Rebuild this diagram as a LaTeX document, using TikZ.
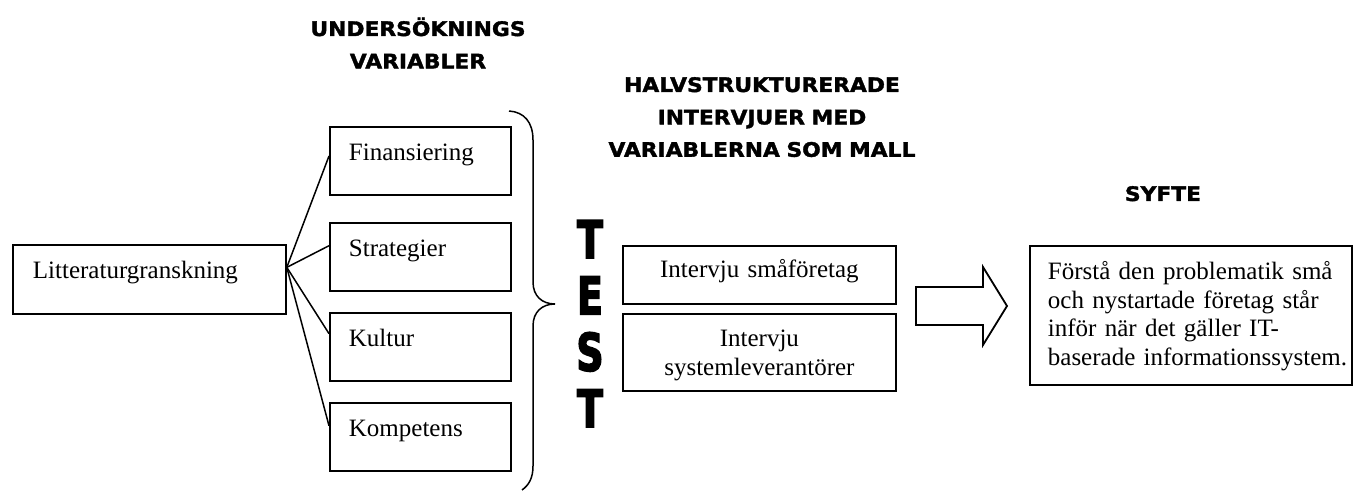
\documentclass[tikz,border=0pt]{standalone}
\usepackage{fontspec}
\setmainfont{Liberation Serif}
\newfontfamily\headfont[FakeStretch=1.09,FakeBold=1.8]{DejaVu Sans Bold}
\newfontfamily\testfont[FakeStretch=0.72,FakeBold=3]{DejaVu Sans Bold}
\usetikzlibrary{calc}
\newcommand\bodysize{\fontsize{12.5pt}{14.25pt}\selectfont}
\newcommand\headsize{\fontsize{10pt}{16.2pt}\selectfont}

\begin{document}
\begin{tikzpicture}[x=0.5pt,y=-0.5pt,
  box/.style={draw,line width=0.9pt,anchor=north west,inner ysep=0pt,font=\bodysize},
  varbox/.style={box,text width=71.5pt,inner xsep=9.5pt,align=left,text height=17pt,text depth=17pt},
  intbox/.style={box,text width=126.5pt,inner xsep=5pt,align=center},
  heading/.style={anchor=base,inner sep=0pt,align=center,font=\headfont\headsize},
  link/.style={line width=0.75pt}]
\useasboundingbox (0,0) rectangle (1356,491);

% section headings
\node[heading,text width=150pt] (hvar) at (418,36) {UNDERSÖKNINGS\\VARIABLER};
\node[heading,text width=170pt] (hint) at (762,92) {HALVSTRUKTURERADE\\INTERVJUER MED\\VARIABLERNA SOM MALL};
\node[heading,text width=60pt] (hsyf) at (1163,201) {SYFTE};

% literature review and the four study variables
\node[box,text width=116.5pt,inner xsep=10pt,align=left,text height=17pt,text depth=17.5pt]
  (lit) at (12,244) {Litteraturgranskning};
\node[varbox] (fin) at (329,126) {Finansiering};
\node[varbox] (str) at (329,222) {Strategier};
\node[varbox] (kul) at (329,312) {Kultur};
\node[varbox] (kom) at (329,402) {Kompetens};

\coordinate (hub) at ($(lit.north east)!0.33!(lit.south east)$);
\draw[link] (hub) -- ($(fin.north west)!0.43!(fin.south west)$);
\draw[link] (hub) -- ($(str.north west)!0.34!(str.south west)$);
\draw[link] (hub) -- ($(kul.north west)!0.31!(kul.south west)$);
\draw[link] (hub) -- ($(kom.north west)!0.34!(kom.south west)$);

% curly brace gathering the variables
\draw[link] (509,111) .. controls (524,112) and (533,122) .. (533,140)
  -- (533,282) .. controls (533,296) and (542,304) .. (555,304)
  .. controls (542,304) and (533,312) .. (533,326)
  -- (533,466) .. controls (533,478) and (529,485) .. (522,490);

% vertical TEST label
\node[anchor=base,inner sep=0pt,text width=20pt,align=center,
  font=\testfont\fontsize{26pt}{28.2pt}\selectfont] (test) at (590,258) {T\\E\\S\\T};

% interviews
\node[intbox,text height=16pt,text depth=13pt] (int1) at (622,245) {Intervju småföretag};
\node[intbox,text height=16.5pt,text depth=22pt] (int2) at (622,313) {Intervju\\systemleverantörer};

% block arrow towards the purpose
\draw[line width=0.9pt] (916,287) -- (983,287) -- (983,267) -- (1007,306)
  -- (983,345) -- (983,325) -- (916,325) -- cycle;

% purpose
\node[box,text width=143pt,inner xsep=9pt,align=left,text height=17pt,text depth=52.5pt]
  (syf) at (1029,245) {\mbox{Förstå den problematik små}\\\mbox{och nystartade företag står}\\\mbox{inför när det gäller IT-}\\\mbox{baserade informationssystem.}};
\end{tikzpicture}
\end{document}
